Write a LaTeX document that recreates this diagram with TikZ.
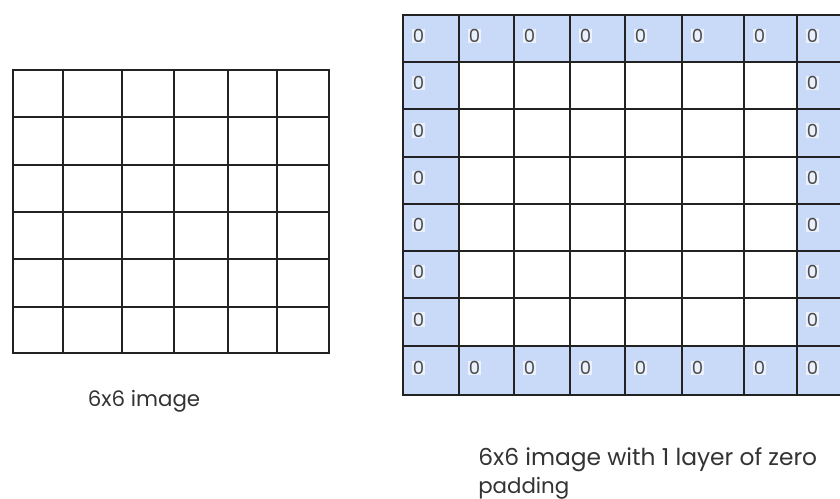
\documentclass[tikz,border=0pt]{standalone}
\usepackage{fontspec}
\setmainfont{Poppins}
\definecolor{padblue}{HTML}{C9DAF8}
\definecolor{zerobg}{HTML}{EAF0FC}
\definecolor{gridline}{HTML}{222222}
\definecolor{txt}{HTML}{333333}
\definecolor{zerotxt}{HTML}{4A4A4A}
\begin{document}
\begin{tikzpicture}[x=0.75pt,y=-0.75pt,
  gridl/.style={draw=gridline,line width=1.5pt,line cap=rect},
  zero/.style={anchor=west,inner sep=0.5pt,fill=zerobg,text=zerotxt,font=\fontsize{13.5}{14}\selectfont},
  caption/.style={text=txt,font=\fontsize{16}{21}\selectfont,inner sep=0pt}]
\useasboundingbox (0,0) rectangle (840,499);
\clip (0,0) rectangle (840,499);
% ---------- left 6x6 grid ----------
\def\lx{{13,63,122,174,228,277,329}}
\def\ly{{70,117,165,212,259,307,353}}
\foreach \i in {0,...,6}{
  \pgfmathsetmacro\xx{\lx[\i]}
  \draw[gridl] (\xx,70) -- (\xx,353);
  \pgfmathsetmacro\yy{\ly[\i]}
  \draw[gridl] (13,\yy) -- (329,\yy);
}
\node[caption] (capA) at (144,401) {6x6 image};
% ---------- right padded grid ----------
\def\rx{{403,459,514,570,625,682,744,797,850}}
\def\ry{{15,62,109,157,204,251,298,346,395}}
\fill[padblue] (403,15) rectangle (850,395);
\fill[white] (459,62) rectangle (797,346);
\foreach \i in {0,...,8}{
  \pgfmathsetmacro\xx{\rx[\i]}
  \draw[gridl] (\xx,15) -- (\xx,395);
  \pgfmathsetmacro\yy{\ry[\i]}
  \draw[gridl] (403,\yy) -- (850,\yy);
}
% zeros in top and bottom rows
\foreach \c in {0,...,7}{
  \pgfmathsetmacro\xx{\rx[\c]+9}
  \node[zero] (zt\c) at (\xx,36) {0};
  \node[zero] (zb\c) at (\xx,368) {0};
}
% zeros in first and last columns
\foreach \r in {1,...,6}{
  \pgfmathtruncatemacro\rn{\r+1}
  \pgfmathsetmacro\ya{\ry[\r]}
  \pgfmathsetmacro\yb{\ry[\rn]}
  \pgfmathsetmacro\yy{(\ya+\yb)/2-2.5}
  \node[zero] (zl\r) at (412,\yy) {0};
  \node[zero] (zr\r) at (806,\yy) {0};
}
\node[caption,anchor=north west,align=left] (capB) at (478,447)
  {\fontsize{17.5}{20}\selectfont 6x6 image with 1 layer of zero\\padding};
\end{tikzpicture}
\end{document}
